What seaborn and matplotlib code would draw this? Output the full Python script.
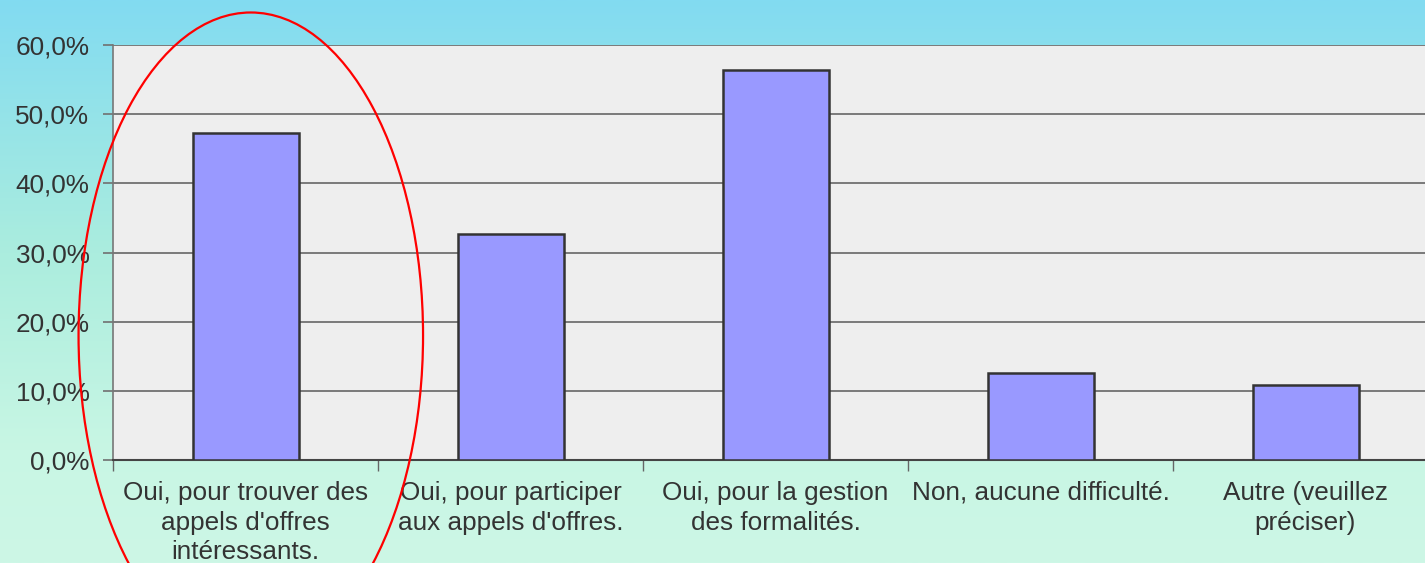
# bar chart: difficulties reported, percentage of answers per category
import numpy as np
import matplotlib
matplotlib.use("Agg")
import matplotlib.pyplot as plt
import seaborn as sns
from matplotlib.patches import Ellipse
from matplotlib.colors import LinearSegmentedColormap
from matplotlib.ticker import FuncFormatter, MultipleLocator

# data
categories = [
    "Oui, pour trouver des\nappels d'offres\nintéressants.",
    "Oui, pour participer\naux appels d'offres.",
    "Oui, pour la gestion\ndes formalités.",
    "Non, aucune difficulté.",
    "Autre (veuillez\npréciser)",
]
values = [47.3, 32.7, 56.4, 12.6, 10.8]
y_ticks = [0, 10, 20, 30, 40, 50, 60]

sns.set_style("white")
plt.rcParams['font.family'] = ['Liberation Sans', 'DejaVu Sans']

fig = plt.figure(figsize=(14.25, 5.63), dpi=100)

# gradient background, blue at the top to mint at the bottom
bg = fig.add_axes([0, 0, 1, 1], zorder=-10)
cmap = LinearSegmentedColormap.from_list(
    "bg", [(0.0, "#82DBF1"), (0.45, "#ABEDDE"), (0.8, "#C8F6E4"), (1.0, "#CDF7E6")])
bg.imshow(np.linspace(0, 1, 256).reshape(-1, 1), aspect="auto", cmap=cmap,
          extent=[0, 1, 1, 0])
bg.set_axis_off()

# plot area (the right end runs past the picture edge, as in the original)
ax = fig.add_axes([113 / 1425, 103 / 563, 1325 / 1425, 415 / 563])
ax.set_facecolor("#EEEEEE")

sns.barplot(x=categories, y=values, color="#9999FF", saturation=1,
            edgecolor="#333333", linewidth=1.8, width=0.4, ax=ax, zorder=3)

ax.set_xlim(-0.5, 4.5)
ax.set_ylim(0, 60)
ax.set_yticks(y_ticks)
ax.yaxis.set_major_formatter(FuncFormatter(lambda v, p: f"{v:.1f}%".replace(".", ",")))
ax.yaxis.grid(True, color="#707070", linewidth=1.3, zorder=1)
ax.set_axisbelow(True)

# tick marks between the categories, labels under the bars
ax.xaxis.set_minor_locator(MultipleLocator(1, offset=0.5))
ax.tick_params(axis="x", which="major", length=0, pad=15, labelsize=18.8,
               labelcolor="#333333")
ax.tick_params(axis="x", which="minor", length=8, width=1, color="#666666",
               direction="out", bottom=True)
ax.tick_params(axis="y", length=7, width=1.2, color="#707070", direction="out",
               left=True, pad=10, labelsize=18.8, labelcolor="#333333")
for lab in ax.get_xticklabels():
    lab.set_linespacing(1.3)

for side in ["top", "right"]:
    ax.spines[side].set_visible(False)
ax.spines["left"].set_color("#777777")
ax.spines["left"].set_linewidth(1.2)
ax.spines["bottom"].set_color("#444444")
ax.spines["bottom"].set_linewidth(1.5)
ax.set_xlabel("")
ax.set_ylabel("")

# red circle drawn around the first category
ax.add_patch(Ellipse((0.02, 18), width=1.30, height=93.4, transform=ax.transData,
                     fill=False, edgecolor="red", linewidth=1.6, clip_on=False,
                     zorder=10))

fig.savefig("out.png", dpi=100)
